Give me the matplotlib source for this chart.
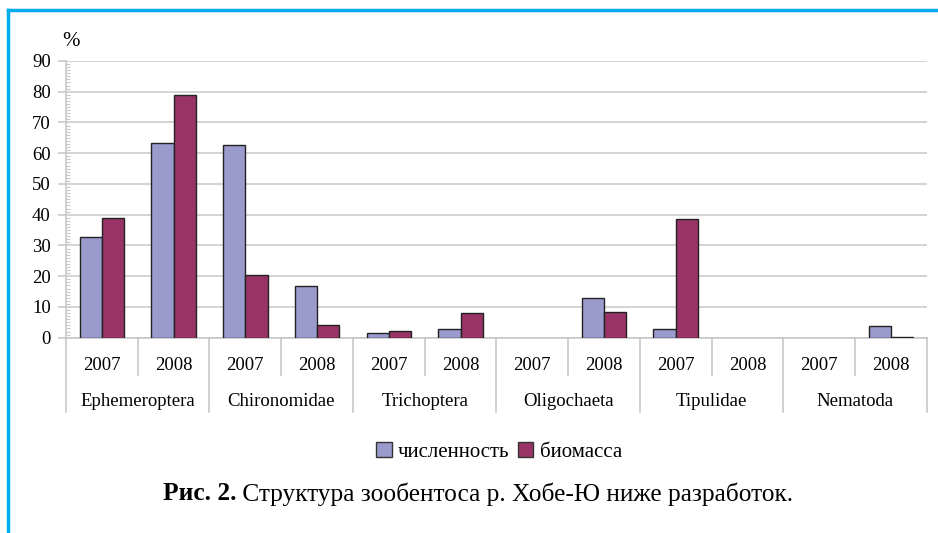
import numpy as np
import matplotlib.pyplot as plt
from matplotlib.lines import Line2D
from matplotlib.patches import Patch

plt.rcParams['font.family'] = ['Liberation Serif', 'DejaVu Serif']

# data (% of total)
categories = ['Ephemeroptera', 'Chironomidae', 'Trichoptera',
              'Oligochaeta', 'Tipulidae', 'Nematoda']
years = ['2007', '2008']
abundance = [32.9, 63.4, 62.7, 16.9, 1.6, 2.9, 0, 12.8, 2.9, 0, 0, 3.8]
biomass = [39.0, 79.0, 20.4, 4.1, 2.2, 8.0, 0, 8.5, 38.6, 0, 0, 0.3]
legend_labels = ['численность', 'биомасса']
colors = ['#9a9acc', '#993366']

fig = plt.figure(figsize=(9.38, 5.33), dpi=100)
ax = fig.add_axes([0.0704, 0.3664, 0.9176, 0.5192])

n = len(abundance)
x = np.arange(n)
w = 0.31
ab = np.array(abundance)
bm = np.array(biomass)
ax.bar(x - w / 2, ab, w, color=colors[0], edgecolor='#222222',
       linewidth=np.where(ab > 0, 1.0, 0), zorder=3)
ax.bar(x + w / 2, bm, w, color=colors[1], edgecolor='#222222',
       linewidth=np.where(bm > 0, 1.0, 0), zorder=3)

ax.set_xlim(-0.5, n - 0.5)
ax.set_ylim(0, 90)
ax.set_yticks(np.arange(0, 91, 10))
ax.set_yticks(np.arange(0, 91, 1), minor=True)
ax.tick_params(axis='y', which='major', direction='out', length=6,
               color='#c8c8c8', width=1.2, labelsize=13.5, pad=5)
ax.tick_params(axis='y', which='minor', direction='in', length=3,
               color='#c8c8c8', width=0.8)
ax.grid(axis='y', color='#d0d0d0', linewidth=1.3, zorder=0)
for s in ['top', 'right']:
    ax.spines[s].set_visible(False)
for s in ['left', 'bottom']:
    ax.spines[s].set_color('#c8c8c8')
    ax.spines[s].set_linewidth(1.2)

# two-level category axis
ax.set_xticks(x)
ax.set_xticklabels(years * len(categories), fontsize=13.5)
ax.tick_params(axis='x', length=0, pad=14)
tr = ax.get_xaxis_transform()
for i in range(n + 1):
    edge = i - 0.5
    bottom = -0.268 if i % 2 == 0 else -0.135
    ax.add_line(Line2D([edge, edge], [0, bottom], transform=tr,
                       color='#c8c8c8', linewidth=1.2, clip_on=False))
for j, cat in enumerate(categories):
    ax.text(2 * j + 0.5, -0.232, cat, transform=tr, ha='center',
            va='center', fontsize=13.5)

ax.text(-0.004, 1.07, '%', transform=ax.transAxes, fontsize=15,
        ha='left', va='center')

handles = [Patch(facecolor=c, edgecolor='#333333', linewidth=1.0)
           for c in colors]
fig.legend(handles, legend_labels, loc='center',
           bbox_to_anchor=(0.532, 1 - 452 / 533), ncol=2, frameon=False,
           fontsize=15, handlelength=0.75, handleheight=0.75,
           handletextpad=0.3, columnspacing=0.4)

# caption: bold prefix followed by regular text
renderer = fig.canvas.get_renderer()
t1 = fig.text(163 / 938, 1 - 494 / 533, 'Рис. 2.', fontsize=18.3,
              fontweight='bold', ha='left', va='center')
bb = t1.get_window_extent(renderer)
fig.text(bb.x1 / fig.bbox.width, 1 - 494 / 533,
         ' Структура зообентоса р. Хобе-Ю ниже разработок.',
         fontsize=18.3, ha='left', va='center')

# blue frame
fig.add_artist(Line2D([8 / 938, 1], [1 - 10 / 533, 1 - 10 / 533],
                      color='#00aeef', linewidth=2.5))
fig.add_artist(Line2D([8 / 938, 8 / 938], [0, 1 - 10 / 533],
                      color='#00aeef', linewidth=2.5))

fig.savefig('out.png', dpi=100)
